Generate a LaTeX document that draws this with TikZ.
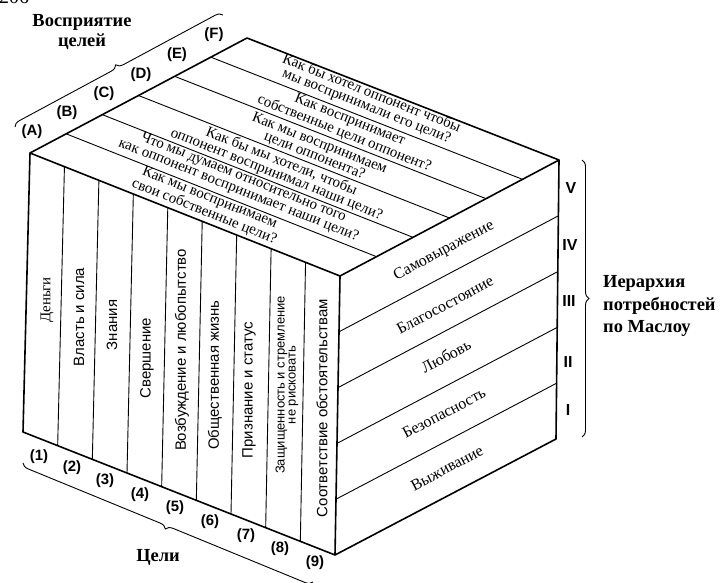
\documentclass[tikz,border=0pt]{standalone}
\usepackage{fontspec}
\setmainfont{Liberation Serif}
\setsansfont{Liberation Sans}
\usetikzlibrary{calc, positioning, decorations.pathreplacing}

\begin{document}
\begin{tikzpicture}[
  x=1bp, y=-1bp,
  edge/.style={draw=black, line width=1.6bp, line join=round},
  divider/.style={draw=black, line width=0.9bp},
  brace/.style={draw=black, line width=0.9bp, decorate, decoration={brace, amplitude=7bp}},
  toptxt/.style={font=\fontsize{15}{13.5}\selectfont, align=center, rotate=-21.6, inner sep=0pt},
  coltxt/.style={font=\sffamily\fontsize{15}{12}\selectfont, align=center, rotate=90, inner sep=0pt},
  sidetxt/.style={font=\fontsize{16}{16}\selectfont, rotate=27.9, inner sep=0pt},
  tag/.style={font=\sffamily\bfseries\fontsize{15}{15}\selectfont, inner sep=0pt},
  numeral/.style={font=\sffamily\bfseries\fontsize{16}{16}\selectfont, inner sep=0pt},
  title/.style={font=\bfseries\fontsize{18.5}{20}\selectfont, align=center, inner sep=0pt},
]
\useasboundingbox (0,0) rectangle (721,583);
\clip (0,0) rectangle (721,583);

% cube corners
\coordinate (ftl) at (30,153);
\coordinate (fbl) at (23,432);
\coordinate (ntl) at (340,276);
\coordinate (nbl) at (335,555);
\coordinate (btl) at (247,38);
\coordinate (btr) at (559,160);
\coordinate (bbr) at (556,439);

% goal columns on the front face
\draw[divider] ($(ftl)!1/9!(ntl)$) -- ($(fbl)!1/9!(nbl)$);
\draw[divider] ($(ftl)!2/9!(ntl)$) -- ($(fbl)!2/9!(nbl)$);
\draw[divider] ($(ftl)!3/9!(ntl)$) -- ($(fbl)!3/9!(nbl)$);
\draw[divider] ($(ftl)!4/9!(ntl)$) -- ($(fbl)!4/9!(nbl)$);
\draw[divider] ($(ftl)!5/9!(ntl)$) -- ($(fbl)!5/9!(nbl)$);
\draw[divider] ($(ftl)!6/9!(ntl)$) -- ($(fbl)!6/9!(nbl)$);
\draw[divider] ($(ftl)!7/9!(ntl)$) -- ($(fbl)!7/9!(nbl)$);
\draw[divider] ($(ftl)!8/9!(ntl)$) -- ($(fbl)!8/9!(nbl)$);

% perception strips on the top face
\draw[divider] ($(ftl)!1/6!(btl)$) -- ($(ntl)!1/6!(btr)$);
\draw[divider] ($(ftl)!2/6!(btl)$) -- ($(ntl)!2/6!(btr)$);
\draw[divider] ($(ftl)!3/6!(btl)$) -- ($(ntl)!3/6!(btr)$);
\draw[divider] ($(ftl)!4/6!(btl)$) -- ($(ntl)!4/6!(btr)$);
\draw[divider] ($(ftl)!5/6!(btl)$) -- ($(ntl)!5/6!(btr)$);

% need levels on the side face
\draw[divider] ($(ntl)!1/5!(nbl)$) -- ($(btr)!1/5!(bbr)$);
\draw[divider] ($(ntl)!2/5!(nbl)$) -- ($(btr)!2/5!(bbr)$);
\draw[divider] ($(ntl)!3/5!(nbl)$) -- ($(btr)!3/5!(bbr)$);
\draw[divider] ($(ntl)!4/5!(nbl)$) -- ($(btr)!4/5!(bbr)$);

% outline
\draw[edge] (ftl) -- (btl) -- (btr) -- (bbr) -- (nbl) -- (fbl) -- cycle;
\draw[edge] (ftl) -- (ntl) -- (btr);
\draw[edge] (ntl) -- (nbl);

% top face texts
\node[toptxt] (pa) at (207,205) {Как мы воспринимаем\\свои собственные цели?};
\node[toptxt] (pb) at (241,184) {Что мы думаем относительно того\\как оппонент воспринимает наши цели?};
\node[toptxt] (pc) at (279,168) {Как бы мы хотели, чтобы\\оппонент воспринимал наши цели?};
\node[toptxt] (pd) at (317,150) {Как мы воспринимаем\\цели оппонента?};
\node[toptxt] (pe) at (347,127) {Как воспринимает\\собственные цели оппонент?};
\node[toptxt] (pf) at (369,100) {Как бы хотел оппонент чтобы\\мы воспринимали его цели?};

% front face texts
\node[coltxt, font=\fontsize{15}{12}\selectfont] (g1) at (47,300) {Деньги};
\node[coltxt] (g2) at (79,317) {Власть и сила};
\node[coltxt] (g3) at (112,325) {Знания};
\node[coltxt] (g4) at (147,358) {Свершение};
\node[coltxt] (g5) at (182,350) {Возбуждение и любопытство};
\node[coltxt] (g6) at (215,375) {Общественная жизнь};
\node[coltxt] (g7) at (249,390) {Признание и статус};
\node[coltxt, font=\sffamily\fontsize{13}{11}\selectfont] (g8) at (287,385) {Защищенность и стремление\\не рисковать};
\node[coltxt] (g9) at (322,408) {Соответствие обстоятельствам};

% side face texts
\node[sidetxt] (m5) at (444,251) {Самовыражение};
\node[sidetxt] (m4) at (445,305) {Благосостояние};
\node[sidetxt] (m3) at (446,356) {Любовь};
\node[sidetxt] (m2) at (444,413) {Безопасность};
\node[sidetxt] (m1) at (447,468) {Выживание};

% level numbers
\node[numeral] (l5) at (571,188) {V};
\node[numeral] (l4) at (570,245) {IV};
\node[numeral] (l3) at (569,301) {III};
\node[numeral] (l2) at (568,362) {II};
\node[numeral] (l1) at (568,410) {I};

% strip letters
\node[tag] (sa) at (32,132) {(A)};
\node[tag] (sb) at (67,113) {(B)};
\node[tag] (sc) at (104,94) {(C)};
\node[tag] (sd) at (141,75) {(D)};
\node[tag] (se) at (177,55) {(E)};
\node[tag] (sf) at (214,35) {(F)};

% column numbers
\node[tag] (n1) at (39,457) {(1)};
\node[tag] (n2) at (72,468) {(2)};
\node[tag] (n3) at (105,481) {(3)};
\node[tag] (n4) at (140,495) {(4)};
\node[tag] (n5) at (175,508) {(5)};
\node[tag] (n6) at (210,522) {(6)};
\node[tag] (n7) at (246,536) {(7)};
\node[tag] (n8) at (280,549) {(8)};
\node[tag] (n9) at (315,563) {(9)};

% braces and captions
\coordinate (tb1) at (15,127);
\coordinate (tb2) at (223,15);
\coordinate (bb1) at (313,582);
\coordinate (bb2) at (23,463);
\coordinate (rb1) at (582,160);
\coordinate (rb2) at (582,437);
\draw[brace] (tb1) -- (tb2);
\draw[brace] (bb1) -- (bb2);
\draw[brace] (rb1) -- (rb2);

\node[title] (perc) at (82,32) {Восприятие\\целей};
\node[title] (goals) at (158,557) {Цели};
\node[title, align=left, anchor=west, font=\bfseries\fontsize{18.5}{22.5}\selectfont] (maslow) at (603,306) {Иерархия\\потребностей\\по Маслоу};
\node[font=\fontsize{20}{20}\selectfont, anchor=base west, inner sep=0pt] (page) at (-1,4) {206};
\end{tikzpicture}
\end{document}
